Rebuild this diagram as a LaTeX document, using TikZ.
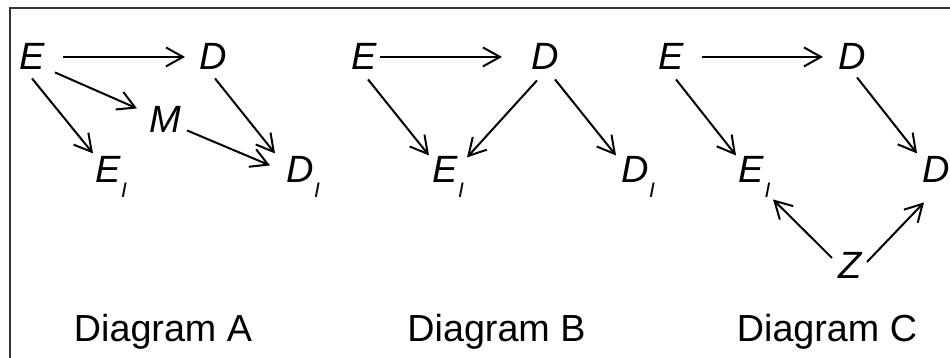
\documentclass[tikz,border=0pt]{standalone}
\usepackage{fontspec}
\setmainfont{Liberation Sans}
\usetikzlibrary{arrows.meta,calc}
\newcommand\subI[1]{#1\rlap{\smash{\kern0.5pt\raisebox{-14pt}{\fontsize{21}{22}\selectfont I}}}}
\tikzset{
  var/.style={font=\fontsize{38}{40}\selectfont\itshape, inner sep=0pt, anchor=base},
  diaglabel/.style={font=\fontsize{37.7}{40}\selectfont, inner sep=0pt, anchor=base},
  arr/.style={line width=2pt, -{Straight Barb[length=17pt,width=19pt]}},
  framestyle/.style={line width=1.1pt, draw=black!80}
}
\begin{document}
\begin{tikzpicture}[x=1pt,y=-1pt]
\clip (0,0) rectangle (950,358);
\fill[white] (0,0) rectangle (950,358);
\coordinate (ftr) at (950,8);
\coordinate (ftl) at (10,8);
\coordinate (fbl) at (10,358);
\draw[framestyle] (ftr) -- (ftl) -- (fbl);

% Diagram A
\node[var] (aE) at (32,70) {E};
\node[var] (aD) at (213.5,70) {D};
\node[var] (aM) at (165,133) {M};
\node[var] (aEI) at (108,183) {\subI{E}};
\node[var] (aDI) at (300,183) {\subI{D}};
\node[diaglabel] (lA) at (163,341) {Diagram A};
\draw[arr] ($(aE)+(31,0)$) -- ($(aD)+(-28.5,0)$);
\draw[arr] ($(aE)+(23,15.5)$) -- ($(aM)+(-28,-11.5)$);
\draw[arr] ($(aE)+(0,21.5)$) -- ($(aEI)+(-15,-16.5)$);
\draw[arr] ($(aM)+(22,10.5)$) -- ($(aDI)+(-30,-4.5)$);
\draw[arr] ($(aD)+(1.5,21.5)$) -- ($(aDI)+(-25,-16.5)$);

% Diagram B
\node[var] (bE) at (364.5,70) {E};
\node[var] (bD) at (545,70) {D};
\node[var] (bEI) at (445,183) {\subI{E}};
\node[var] (bDI) at (635,183) {\subI{D}};
\node[diaglabel] (lB) at (496.5,341) {Diagram B};
\draw[arr] ($(bE)+(15.5,0)$) -- ($(bD)+(-43,0)$);
\draw[arr] ($(bE)+(3.5,22.5)$) -- ($(bEI)+(-16,-14.5)$);
\draw[arr] ($(bD)+(-8,23.5)$) -- ($(bEI)+(22,-12.5)$);
\draw[arr] ($(bD)+(10,22.5)$) -- ($(bDI)+(-19,-14.5)$);

% Diagram C
\node[var] (cE) at (671.5,70) {E};
\node[var] (cD) at (852.5,70) {D};
\node[var] (cEI) at (751.5,183) {\subI{E}};
\node[var] (cDI) at (936.5,183) {\subI{D}};
\node[var] (cZ) at (850,278) {Z};
\node[diaglabel] (lC) at (827,341) {Diagram C};
\draw[arr] ($(cE)+(30.5,0)$) -- ($(cD)+(-29.5,0)$);
\draw[arr] ($(cE)+(4.5,22.5)$) -- ($(cEI)+(-15.5,-14.5)$);
\draw[arr] ($(cD)+(4.5,20.5)$) -- ($(cDI)+(-19.5,-16.5)$);
\draw[arr] ($(cZ)+(-18,-7)$) -- ($(cEI)+(21.5,29.5)$);
\draw[arr] ($(cZ)+(17,-3)$) -- ($(cDI)+(-12.5,32.5)$);
\end{tikzpicture}
\end{document}
